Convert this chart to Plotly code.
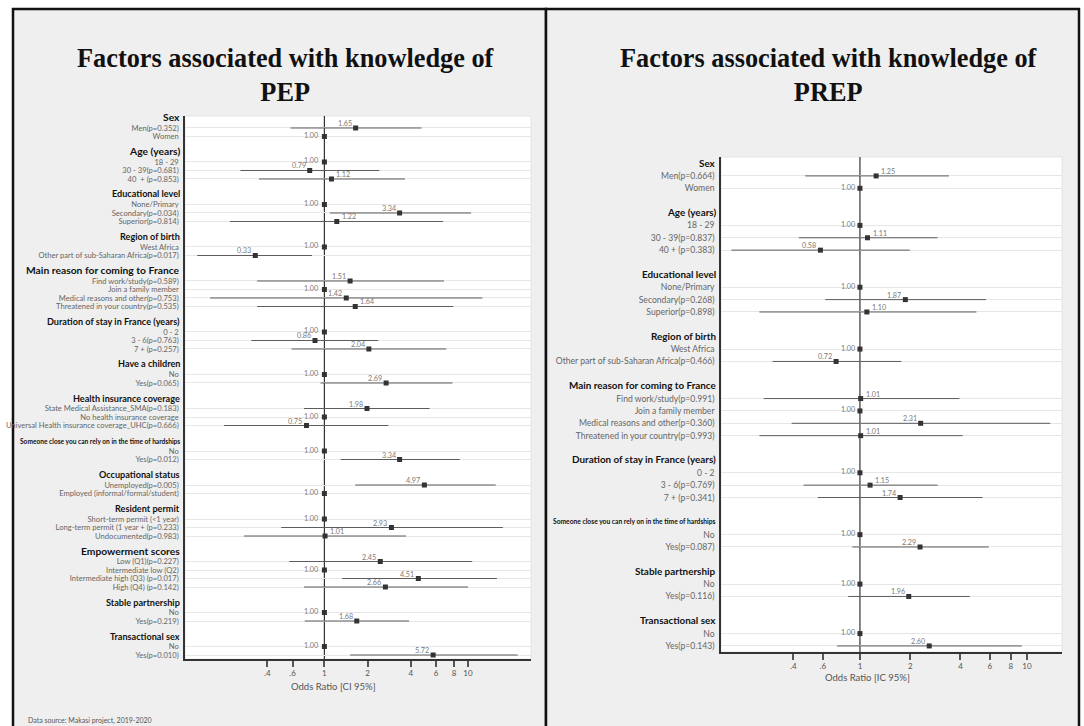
import math
import plotly.graph_objects as go

W, H = 1084, 726

# ---------------- PEP (left panel) data ----------------
pep_group = ["Sex", "Sex",
             "Age (years)", "Age (years)", "Age (years)",
             "Educational level", "Educational level", "Educational level",
             "Region of birth", "Region of birth",
             "Main reason for coming to France", "Main reason for coming to France",
             "Main reason for coming to France", "Main reason for coming to France",
             "Duration of stay in France (years)", "Duration of stay in France (years)",
             "Duration of stay in France (years)",
             "Have a children", "Have a children",
             "Health insurance coverage", "Health insurance coverage", "Health insurance coverage",
             "Someone close you can rely on in the time of hardships",
             "Someone close you can rely on in the time of hardships",
             "Occupational status", "Occupational status",
             "Resident permit", "Resident permit", "Resident permit",
             "Empowerment scores", "Empowerment scores", "Empowerment scores", "Empowerment scores",
             "Stable partnership", "Stable partnership",
             "Transactional sex", "Transactional sex"]
pep_level = ["Men(p=0.352)", "Women",
             "18 - 29", "30 - 39(p=0.681)", "40  + (p=0.853)",
             "None/Primary", "Secondary(p=0.034)", "Superior(p=0.814)",
             "West Africa", "Other part of sub-Saharan Africa(p=0.017)",
             "Find work/study(p=0.589)", "Join a family member",
             "Medical reasons and other(p=0.753)", "Threatened in your country(p=0.535)",
             "0 - 2", "3 - 6(p=0.763)", "7 + (p=0.257)",
             "No", "Yes(p=0.065)",
             "State Medical Assistance_SMA(p=0.183)", "No health insurance coverage",
             "Universal Health insurance coverage_UHC(p=0.666)",
             "No", "Yes(p=0.012)",
             "Unemployed(p=0.005)", "Employed (informal/formal/student)",
             "Short-term permit (&lt;1 year)", "Long-term permit (1 year + (p=0.233)",
             "Undocumented(p=0.983)",
             "Low (Q1)(p=0.227)", "Intermediate low (Q2)", "Intermediate high (Q3) (p=0.017)",
             "High (Q4) (p=0.142)",
             "No", "Yes(p=0.219)",
             "No", "Yes(p=0.010)"]
pep_or = [1.65, 1.00,
          1.00, 0.79, 1.12,
          1.00, 3.34, 1.22,
          1.00, 0.33,
          1.51, 1.00, 1.42, 1.64,
          1.00, 0.86, 2.04,
          1.00, 2.69,
          1.98, 1.00, 0.75,
          1.00, 3.34,
          4.97, 1.00,
          1.00, 2.93, 1.01,
          2.45, 1.00, 4.51, 2.66,
          1.00, 1.68,
          1.00, 5.72]
pep_lo = [0.58, None,
          None, 0.26, 0.35,
          None, 1.09, 0.22,
          None, 0.13,
          0.34, None, 0.16, 0.34,
          None, 0.31, 0.59,
          None, 0.94,
          0.72, None, 0.20,
          None, 1.30,
          1.64, None,
          None, 0.50, 0.275,
          0.57, None, 1.33, 0.72,
          None, 0.73,
          None, 1.51]
pep_hi = [4.75, None,
          None, 2.41, 3.64,
          None, 10.5, 6.7,
          None, 0.82,
          6.8, None, 12.6, 7.9,
          None, 2.37, 7.07,
          None, 7.8,
          5.4, None, 2.79,
          None, 8.76,
          15.6, None,
          None, 17.5, 3.7,
          10.7, None, 15.9, 10.0,
          None, 3.89,
          None, 22.2]
pep_labelside = ["tl", "ml", "ml", "tl", "tr", "ml", "tl", "tr", "ml", "tl",
                 "tl", "ml", "tl", "tr", "ml", "tl", "tl", "ml", "tl",
                 "tl", "ml", "tl", "ml", "tl", "tl", "ml", "ml", "tl", "tr",
                 "tl", "ml", "tl", "tl", "ml", "tl", "ml", "tl"]
pep_wide_headers = ["Sex", "Age (years)", "Main reason for coming to France",
                    "Empowerment scores"]

# ---------------- PREP (right panel) data ----------------
prep_group = ["Sex", "Sex",
              "Age (years)", "Age (years)", "Age (years)",
              "Educational level", "Educational level", "Educational level",
              "Region of birth", "Region of birth",
              "Main reason for coming to France", "Main reason for coming to France",
              "Main reason for coming to France", "Main reason for coming to France",
              "Duration of stay in France (years)", "Duration of stay in France (years)",
              "Duration of stay in France (years)",
              "Someone close you can rely on in the time of hardships",
              "Someone close you can rely on in the time of hardships",
              "Stable partnership", "Stable partnership",
              "Transactional sex", "Transactional sex"]
prep_level = ["Men(p=0.664)", "Women",
              "18 - 29", "30 - 39(p=0.837)", "40 + (p=0.383)",
              "None/Primary", "Secondary(p=0.268)", "Superior(p=0.898)",
              "West Africa", "Other part of sub-Saharan Africa(p=0.466)",
              "Find work/study(p=0.991)", "Join a family member",
              "Medical reasons and other(p=0.360)", "Threatened in your country(p=0.993)",
              "0 - 2", "3 - 6(p=0.769)", "7 + (p=0.341)",
              "No", "Yes(p=0.087)",
              "No", "Yes(p=0.116)",
              "No", "Yes(p=0.143)"]
prep_or = [1.25, 1.00,
           1.00, 1.11, 0.58,
           1.00, 1.87, 1.10,
           1.00, 0.72,
           1.01, 1.00, 2.31, 1.01,
           1.00, 1.15, 1.74,
           1.00, 2.29,
           1.00, 1.96,
           1.00, 2.60]
prep_lo = [0.47, None,
           None, 0.43, 0.17,
           None, 0.62, 0.25,
           None, 0.30,
           0.265, None, 0.39, 0.25,
           None, 0.46, 0.56,
           None, 0.90,
           None, 0.85,
           None, 0.73]
prep_hi = [3.41, None,
           None, 2.92, 1.99,
           None, 5.69, 4.98,
           None, 1.77,
           3.94, None, 13.8, 4.13,
           None, 2.92, 5.42,
           None, 5.91,
           None, 4.55,
           None, 9.31]
prep_labelside = ["tr", "ml", "ml", "tr", "tl", "ml", "tl", "tr", "ml", "tl",
                  "tr", "ml", "tl", "tr", "ml", "tr", "tl", "ml", "tl",
                  "ml", "tl", "ml", "tl"]
prep_wide_headers = []

x_tickvals = [0.4, 0.6, 1, 2, 4, 6, 8, 10]
x_ticktext = [".4", ".6", "1", "2", "4", "6", "8", "10"]


def layout_rows(groups):
    rows, headers = [], []
    idx, prev = -1, None
    for g in groups:
        if g != prev:
            if prev is not None:
                idx += 1
            idx += 1
            headers.append((g, idx))
            prev = g
        idx += 1
        rows.append(idx)
    return rows, headers, idx


fig = go.Figure()
shapes = []
annotations = []

# panel backgrounds
shapes.append(dict(type="rect", xref="paper", yref="paper", layer="below",
                   x0=13 / W, x1=546 / W, y0=-0.05, y1=1 - 9 / H,
                   fillcolor="#efefef", line=dict(color="#111", width=2.5)))
shapes.append(dict(type="rect", xref="paper", yref="paper", layer="below",
                   x0=546 / W, x1=1079 / W, y0=-0.05, y1=1 - 9 / H,
                   fillcolor="#efefef", line=dict(color="#111", width=2.5)))

panels = [
    dict(group=pep_group, level=pep_level, orv=pep_or, lo=pep_lo, hi=pep_hi, side=pep_labelside,
         wide=pep_wide_headers,
         xa="x", ya="y", xdom=[185 / W, 531 / W], ydom=[1 - 659 / H, 1 - 116 / H],
         xr=[-0.971, 1.439], pad=(0.41, 0.47), tick_fs=7.6, head_fs=9.1, wide_fs=10.3,
         small_head_fs=6.6, lab_fs=7.2, msize=5, axtitle="Odds Ratio [CI 95%]",
         axtitle_y=1 - 686 / H, title_x=286 / W, sub="PEP", ml_shift=-4, up=4.5, head_up=2),
    dict(group=prep_group, level=prep_level, orv=prep_or, lo=prep_lo, hi=prep_hi, side=prep_labelside,
         wide=prep_wide_headers,
         xa="x2", ya="y2", xdom=[721 / W, 1062 / W], ydom=[1 - 652 / H, 1 - 157 / H],
         xr=[-0.832, 1.21], pad=(0.53, 0.49), tick_fs=8.6, head_fs=9.9, wide_fs=9.9,
         small_head_fs=6.7, lab_fs=7.2, msize=5, axtitle="Odds Ratio [IC 95%]",
         axtitle_y=1 - 677 / H, title_x=829 / W, sub="PREP", ml_shift=-3, up=4.5, head_up=1),
]

for i, p in enumerate(panels):
    rows, headers, last = layout_rows(p["group"])
    # CI lines
    lx, ly = [], []
    for r, a, b in zip(rows, p["lo"], p["hi"]):
        if a is None:
            continue
        lx += [a, b, None]
        ly += [r, r, None]
    fig.add_trace(go.Scatter(x=lx, y=ly, mode="lines", xaxis=p["xa"], yaxis=p["ya"],
                             line=dict(color="#5c5c5c", width=1), hoverinfo="skip",
                             showlegend=False))
    # point estimates
    fig.add_trace(go.Scatter(x=p["orv"], y=rows, mode="markers", xaxis=p["xa"], yaxis=p["ya"],
                             marker=dict(symbol="square", size=p["msize"], color="#333333"),
                             cliponaxis=False, showlegend=False))
    # value labels
    for v, r, s in zip(p["orv"], rows, p["side"]):
        if s == "ml":
            xa_, xs, ys = "right", p["ml_shift"], 1
        elif s == "tl":
            xa_, xs, ys = "right", -2, p["up"]
        else:
            xa_, xs, ys = "left", 3, p["up"]
        annotations.append(dict(xref=p["xa"], yref=p["ya"], x=math.log10(v), y=r,
                                xanchor=xa_, yanchor="middle", xshift=xs, yshift=ys,
                                showarrow=False, text=f"{v:.2f}",
                                font=dict(family="Lato", size=p["lab_fs"], color="#7a7a7a")))
    xk = "xaxis" if i == 0 else "xaxis2"
    yk = "yaxis" if i == 0 else "yaxis2"
    fig.update_layout(**{
        xk: dict(domain=p["xdom"], anchor=p["ya"], type="log", range=p["xr"],
                 tickvals=x_tickvals, ticktext=x_ticktext, showgrid=False, zeroline=False,
                 showline=True, linecolor="#333", linewidth=1.5,
                 ticks="outside", ticklen=6, tickwidth=2, tickcolor="#555",
                 tickfont=dict(family="Lato", size=8, color="#555")),
        yk: dict(domain=p["ydom"], anchor=p["xa"], range=[last + p["pad"][1], -p["pad"][0]],
                 tickvals=rows, ticktext=p["level"], showgrid=True, gridcolor="#e6e6e6",
                 gridwidth=1, zeroline=False, showline=True, linecolor="#333", linewidth=1.5,
                 ticks="", ticklabelstandoff=3,
                 tickfont=dict(family="Lato", size=p["tick_fs"], color="#666")),
    })
    dref = p["xa"] + " domain"
    ydref = p["ya"] + " domain"
    # white plotting area
    shapes.append(dict(type="rect", xref=dref, yref=ydref, layer="below",
                       x0=0, x1=1, y0=0, y1=1, fillcolor="white",
                       line=dict(color="#e0e0e0", width=0.8)))
    # reference line at OR = 1
    shapes.append(dict(type="line", xref=p["xa"], yref=ydref, layer="below",
                       x0=1, x1=1, y0=0, y1=1, line=dict(color="#333", width=1.2)))
    # group headers
    for g, r in headers:
        if len(g) > 40:
            fs = p["small_head_fs"]
        elif g in p["wide"]:
            fs = p["wide_fs"]
        else:
            fs = p["head_fs"]
        annotations.append(dict(xref=dref, yref=p["ya"], x=0, y=r, xanchor="right",
                                yanchor="middle", xshift=-3, yshift=p["head_up"],
                                showarrow=False, text=f"<b>{g}</b>",
                                font=dict(family="Lato", size=fs, color="#111")))
    # axis title
    annotations.append(dict(xref=dref, yref="paper", x=0.43, y=p["axtitle_y"],
                            xanchor="center", yanchor="middle", showarrow=False,
                            text=p["axtitle"], font=dict(family="Lato", size=9.5, color="#555")))
    # panel title (two lines)
    annotations.append(dict(xref="paper", yref="paper", x=p["title_x"], y=1 - 76 / H,
                            xanchor="center", yanchor="middle", showarrow=False,
                            text=f"<b>Factors associated with knowledge of<br>{p['sub']}</b>",
                            font=dict(family="Liberation Serif", size=26.3, color="#111")))

annotations.append(dict(xref="paper", yref="paper", x=26 / W, y=1 - 720 / H,
                        xanchor="left", yanchor="middle", showarrow=False,
                        text="Data source: Makasi project, 2019-2020",
                        font=dict(family="Lato", size=7, color="#555")))

fig.update_layout(width=W, height=H, margin=dict(l=0, r=0, t=0, b=0),
                  paper_bgcolor="white", plot_bgcolor="white",
                  shapes=shapes, annotations=annotations, showlegend=False)

fig.write_html("out.html", config={"displayModeBar": False},
               post_script="document.body.style.margin='0';document.body.style.overflow='hidden';")
